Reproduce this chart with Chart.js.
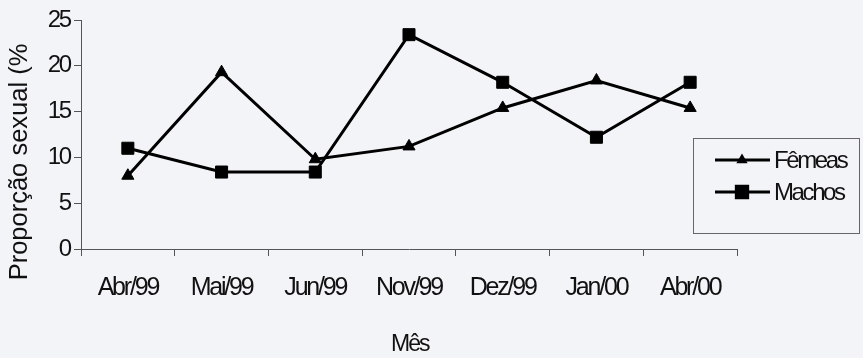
<!DOCTYPE html>
<html lang="pt">
<head>
<meta charset="utf-8">
<title>Proporção sexual por mês</title>
<script src="https://cdn.jsdelivr.net/npm/chart.js@4/dist/chart.umd.min.js"></script>
<style>
  html, body { margin: 0; padding: 0; background: #f3f4f7; }
  #wrap { width: 863px; height: 358px; position: relative; }
</style>
</head>
<body>
<div id="wrap"><canvas id="chart" width="863" height="358"></canvas></div>
<script>
// Meses amostrados
const meses = ['Abr/99', 'Mai/99', 'Jun/99', 'Nov/99', 'Dez/99', 'Jan/00', 'Abr/00'];
// Proporção sexual (%) por sexo
const femeas = [8.0, 19.3, 9.8, 11.2, 15.4, 18.4, 15.4];
const machos = [11.0, 8.4, 8.4, 23.4, 18.2, 12.2, 18.2];
// Eixo y
const yTicks = [0, 5, 10, 15, 20, 25];
const tituloY = 'Proporção sexual (%';
const tituloX = 'Mês';

const FONT = '"Liberation Sans", Arial, sans-serif';
const AXIS_COLOR = '#555';
const TIGHT = '-2.2px';   // espaçamento apertado dos rótulos do eixo x

// O eixo x e seus rótulos usam letras apertadas; o eixo y (z: 1) volta ao normal
const espacamento = {
  id: 'espacamento',
  beforeDraw(chart) { chart.ctx.letterSpacing = TIGHT; },
  beforeDatasetsDraw(chart) { chart.ctx.letterSpacing = '0px'; }
};

// Títulos dos eixos
const titulos = {
  id: 'titulos',
  afterDraw(chart) {
    const ctx = chart.ctx;
    ctx.save();
    ctx.letterSpacing = '0px';
    ctx.fillStyle = '#111';
    ctx.textBaseline = 'middle';
    ctx.textAlign = 'center';
    ctx.font = '25.5px ' + FONT;
    ctx.translate(20, 162);
    ctx.rotate(-Math.PI / 2);
    ctx.fillText(tituloY, 0, 0);
    ctx.restore();

    ctx.save();
    ctx.letterSpacing = '-2px';
    ctx.fillStyle = '#111';
    ctx.textBaseline = 'middle';
    ctx.textAlign = 'left';
    ctx.font = '23px ' + FONT;
    ctx.fillText(tituloX, 391, 345);
    ctx.restore();
  }
};

// Legenda em caixa, desenhada com o estilo de cada série
const legenda = {
  id: 'legendaCaixa',
  afterDraw(chart) {
    const ctx = chart.ctx;
    const box = { x: 693.5, y: 138.5, w: 166, h: 95 };
    ctx.save();
    ctx.letterSpacing = '0px';
    ctx.strokeStyle = '#666';
    ctx.lineWidth = 1;
    ctx.strokeRect(box.x, box.y, box.w, box.h);
    const rows = [160, 192];
    chart.data.datasets.forEach((ds, i) => {
      const y = rows[i];
      ctx.strokeStyle = ds.borderColor;
      ctx.lineWidth = ds.borderWidth;
      ctx.beginPath();
      ctx.moveTo(715, y);
      ctx.lineTo(770, y);
      ctx.stroke();
      ctx.fillStyle = ds.pointBackgroundColor;
      ctx.strokeStyle = ds.pointBorderColor;
      Chart.helpers.drawPoint(ctx, {
        pointStyle: ds.pointStyle,
        radius: ds.legendRadius,
        borderWidth: 1,
        rotation: 0
      }, 742, y);
      ctx.fillStyle = '#111';
      ctx.textBaseline = 'middle';
      ctx.textAlign = 'left';
      ctx.letterSpacing = '-2.4px';
      ctx.font = '24px ' + FONT;
      ctx.fillText(ds.label, 774, y + 1);
      ctx.letterSpacing = '0px';
    });
    ctx.restore();
  }
};

new Chart(document.getElementById('chart'), {
  type: 'line',
  data: {
    labels: meses,
    datasets: [
      {
        label: 'Fêmeas',
        data: femeas,
        borderColor: '#000',
        borderWidth: 3,
        pointStyle: 'triangle',
        pointRadius: 7,
        legendRadius: 3.5,
        pointBackgroundColor: '#000',
        pointBorderColor: '#000',
        pointBorderWidth: 1,
        tension: 0
      },
      {
        label: 'Machos',
        data: machos,
        borderColor: '#000',
        borderWidth: 3,
        pointStyle: 'rect',
        pointRadius: 8.5,
        legendRadius: 8,
        pointBackgroundColor: '#000',
        pointBorderColor: '#000',
        pointBorderWidth: 1,
        tension: 0
      }
    ]
  },
  options: {
    responsive: false,
    animation: false,
    devicePixelRatio: 1,
    layout: { padding: { top: 20, right: 126, bottom: 0, left: 0 } },
    plugins: {
      legend: { display: false },
      tooltip: { enabled: false }
    },
    scales: {
      x: {
        type: 'category',
        offset: true,
        grid: {
          offset: true,
          drawOnChartArea: false,
          drawTicks: true,
          tickLength: 7,
          tickColor: AXIS_COLOR
        },
        border: { display: true, color: AXIS_COLOR, width: 1 },
        ticks: {
          color: '#111',
          font: { family: FONT, size: 25 },
          padding: 17,
          maxRotation: 0,
          autoSkip: false
        },
        afterFit(scale) { scale.height = 109; }
      },
      y: {
        min: 0,
        max: 25,
        z: 1,
        afterBuildTicks(scale) { scale.ticks = yTicks.map(v => ({ value: v })); },
        grid: {
          drawOnChartArea: false,
          drawTicks: true,
          tickLength: 7,
          tickColor: AXIS_COLOR
        },
        border: { display: true, color: AXIS_COLOR, width: 1 },
        ticks: {
          color: '#111',
          font: { family: FONT, size: 24 },
          padding: 4
        },
        afterFit(scale) { scale.width = 81; }
      }
    }
  },
  plugins: [espacamento, titulos, legenda]
});
</script>
</body>
</html>
